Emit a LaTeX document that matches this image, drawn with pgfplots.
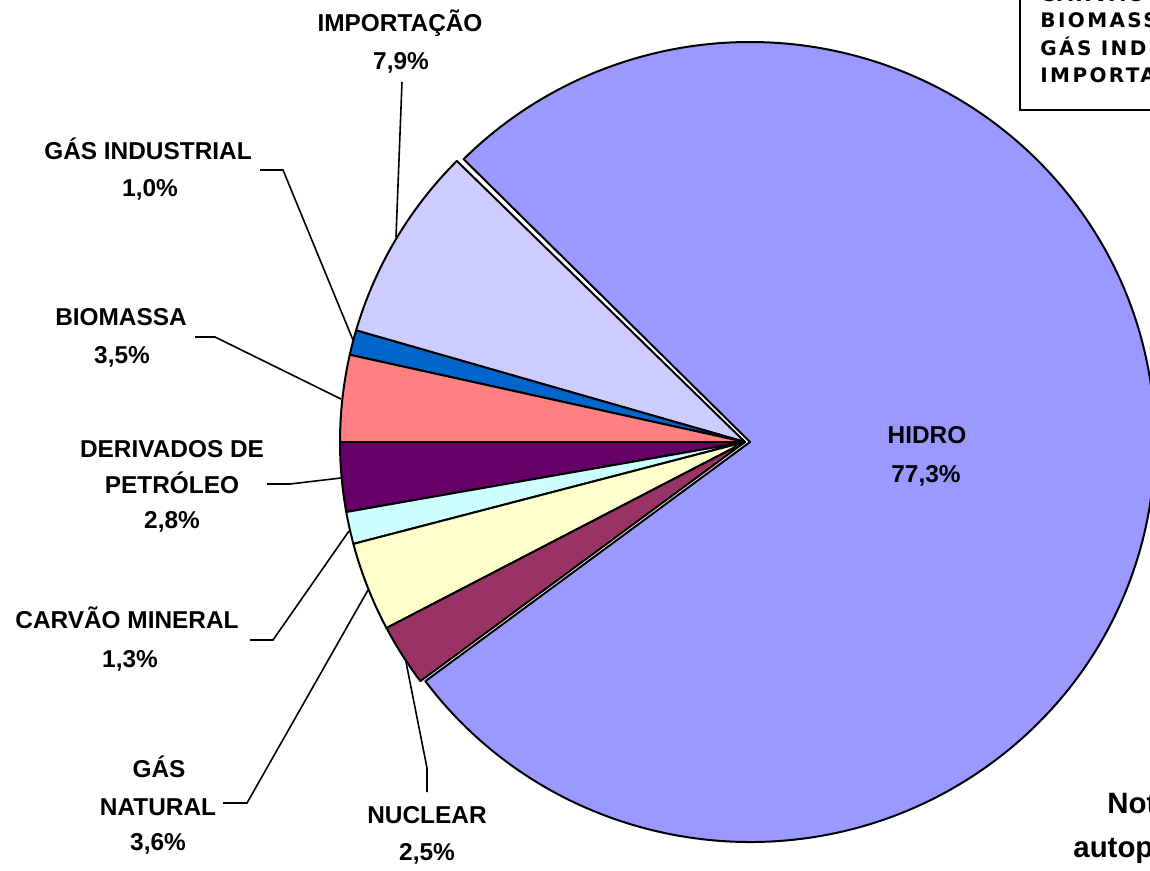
\documentclass[border=0pt]{standalone}
\usepackage{fontspec}
\setmainfont{Liberation Sans}
\newfontfamily\dejavu{DejaVu Sans}[LetterSpace=12]
\usepackage{pgfplots}
\usepackage{pgfplotstable}
\pgfplotsset{compat=1.18}
\definecolor{cHid}{HTML}{9999FF}
\definecolor{cImp}{HTML}{CCCCFF}
\definecolor{cGas}{HTML}{0066CC}
\definecolor{cBio}{HTML}{FF8080}
\definecolor{cDer}{HTML}{660066}
\definecolor{cCar}{HTML}{CCFFFF}
\definecolor{cGN}{HTML}{FFFFCC}
\definecolor{cNuc}{HTML}{993366}
\tikzset{
  lbl/.style={anchor=base, font=\bfseries\fontsize{12.2}{14}\selectfont},
  ldr/.style={line width=0.8pt},
  leg/.style={anchor=base west, inner sep=0pt, font=\dejavu\bfseries\fontsize{10}{12}\selectfont},
  nota/.style={anchor=base west, inner sep=0pt, font=\bfseries\fontsize{14.7}{17}\selectfont},
}

% share of each source (%), drawn counter-clockwise starting at 135.36 deg
\pgfplotstableread{
name pct col cx
Importacao 7.9 cImp 745
GasInd 1.0 cGas 745
Biomassa 3.5 cBio 745
Derivados 2.8 cDer 745
Carvao 1.3 cCar 745
GasNat 3.6 cGN 745
Nuclear 2.5 cNuc 745
Hidro 77.3 cHid 750
}\piedata

\begin{document}
\begin{tikzpicture}
\begin{axis}[
  scale only axis, width=575pt, height=435.5pt,
  xmin=0, xmax=1150, ymin=0, ymax=871, y dir=reverse,
  hide axis, clip=true,
]
\def\sa{135.36}
\pgfplotsforeachungrouped \i in {0,...,7}{%
  \pgfplotstablegetelem{\i}{pct}\of\piedata \let\spct\pgfplotsretval
  \pgfplotstablegetelem{\i}{col}\of\piedata \let\scol\pgfplotsretval
  \pgfplotstablegetelem{\i}{cx}\of\piedata \let\scx\pgfplotsretval
  \pgfmathsetmacro\ea{\sa+3.6*\spct}%
  \edef\temp{\noexpand\filldraw[fill=\scol,draw=black,line width=1pt,line join=round] (axis cs:\scx,442) -- ++(\sa:202.5pt and 200pt) arc[start angle=\sa,end angle=\ea,x radius=202.5pt,y radius=200pt] -- cycle;}%
  \temp
  \global\let\sa\ea
}
% leader lines
\draw[ldr] (axis cs:402,82) -- (axis cs:396,237);
\draw[ldr] (axis cs:260,170) -- (axis cs:283,170) -- (axis cs:353,340);
\draw[ldr] (axis cs:195,337) -- (axis cs:215,337) -- (axis cs:341,399);
\draw[ldr] (axis cs:267,484) -- (axis cs:290,484) -- (axis cs:341,478);
\draw[ldr] (axis cs:250,640) -- (axis cs:273,640) -- (axis cs:349,531);
\draw[ldr] (axis cs:223,803) -- (axis cs:247,803) -- (axis cs:368,590);
\draw[ldr] (axis cs:427,792) -- (axis cs:427,768) -- (axis cs:406,662);
% labels
\node[lbl] at (axis cs:400,32) {IMPORTAÇÃO};
\node[lbl] at (axis cs:401,70) {7,9\%};
\node[lbl] at (axis cs:148,160) {GÁS INDUSTRIAL};
\node[lbl] at (axis cs:150,197) {1,0\%};
\node[lbl] at (axis cs:121,326) {BIOMASSA};
\node[lbl] at (axis cs:122,364) {3,5\%};
\node[lbl] at (axis cs:172,457) {DERIVADOS DE};
\node[lbl] at (axis cs:172,493) {PETRÓLEO};
\node[lbl] at (axis cs:172,528) {2,8\%};
\node[lbl] at (axis cs:127,628) {CARVÃO MINERAL};
\node[lbl] at (axis cs:130,667) {1,3\%};
\node[lbl] at (axis cs:159,777) {GÁS};
\node[lbl] at (axis cs:158,815) {NATURAL};
\node[lbl] at (axis cs:158,850) {3,6\%};
\node[lbl] at (axis cs:427,823) {NUCLEAR};
\node[lbl] at (axis cs:427,860) {2,5\%};
\node[lbl] at (axis cs:927,443) {HIDRO};
\node[lbl] at (axis cs:926,482) {77,3\%};
% legend box (cut off)
\draw[line width=1pt] (axis cs:1020,-20) -- (axis cs:1020,110) -- (axis cs:1170,110);
\node[leg] at (axis cs:1040,2) {CARVÃO MINERAL};
\node[leg] at (axis cs:1040,28) {BIOMASSA};
\node[leg] at (axis cs:1040,56) {GÁS INDUSTRIAL};
\node[leg] at (axis cs:1040,83) {IMPORTAÇÃO};
% note (cut off)
\node[nota] at (axis cs:1107,813) {Nota:};
\node[nota] at (axis cs:1073,857) {autoprodução};
\end{axis}
\pgfresetboundingbox
\path[use as bounding box] (current axis.south west) rectangle (current axis.north east);
\end{tikzpicture}
\end{document}
